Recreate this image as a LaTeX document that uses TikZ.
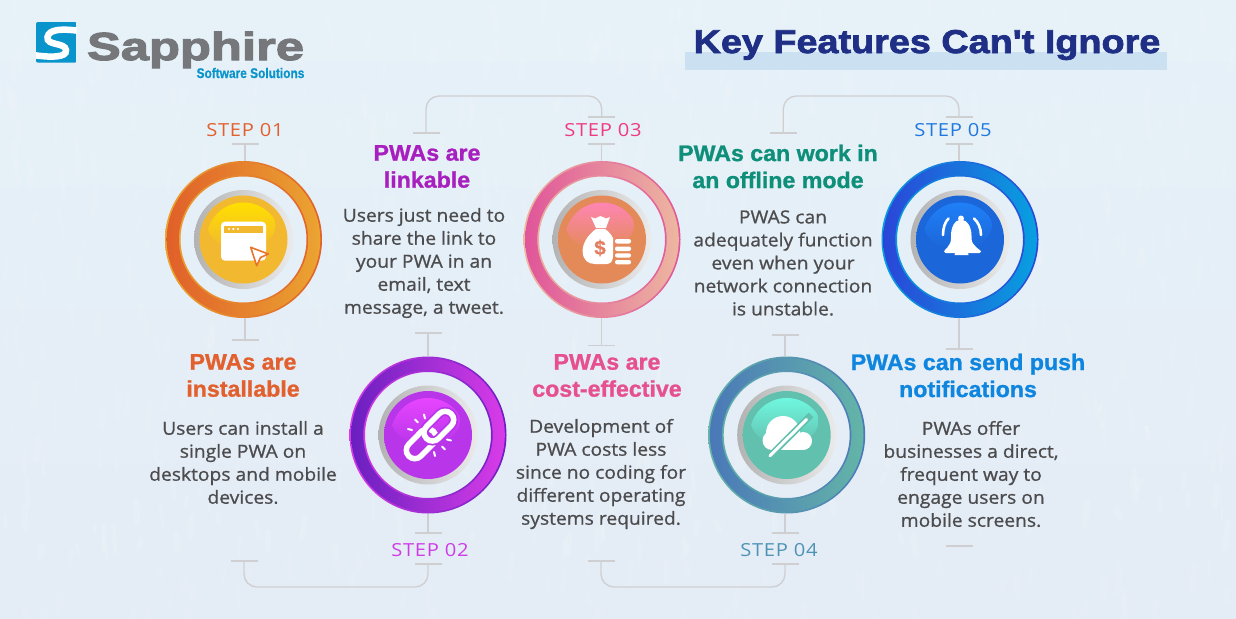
\documentclass[tikz,border=0pt]{standalone}
\usepackage{fontspec}
\setmainfont{Open Sans}
\newfontfamily\bodyf[FakeStretch=1.07,FakeBold=0.9]{Open Sans}
\newfontfamily\headf[FakeStretch=1.03,FakeBold=1.1]{Liberation Sans Bold}
\newfontfamily\titlef[FakeStretch=1.145,FakeBold=2.2]{Liberation Sans Bold}
\newfontfamily\logof[FakeStretch=1.3,FakeBold=3]{Liberation Sans Bold}
\newfontfamily\subf[FakeStretch=0.85,FakeBold=0.4]{Liberation Sans Bold}
\newfontfamily\stepf[FakeStretch=1.12,LetterSpace=4]{Open Sans}
\definecolor{bgc}{HTML}{E6F1F8}
\definecolor{bgd}{HTML}{E4ECF5}
\definecolor{linec}{HTML}{CFCFD2}
\definecolor{bodyc}{HTML}{4C4C4E}
\definecolor{logoblue}{HTML}{0A94CC}
\definecolor{logogray}{HTML}{76777A}
\definecolor{titlec}{HTML}{1E2F85}
\definecolor{bandc}{HTML}{CBE1F2}
\definecolor{stepa}{HTML}{E2602E}
\definecolor{stepb}{HTML}{CF3BE6}
\definecolor{stepc}{HTML}{EE3A80}
\definecolor{stepd}{HTML}{4E93B5}
\definecolor{stepe}{HTML}{1F78E0}
\definecolor{heada}{HTML}{E2602E}
\definecolor{headb}{HTML}{A81FBF}
\definecolor{headc}{HTML}{E65090}
\definecolor{headd}{HTML}{0E8F7A}
\definecolor{heade}{HTML}{0E86E0}
\definecolor{la}{HTML}{E0602A}\definecolor{ma}{HTML}{E68A2E}\definecolor{ra}{HTML}{EBA431}
\definecolor{ea}{HTML}{E8682A}\definecolor{ia}{HTML}{F2B830}\definecolor{ha}{HTML}{FFE000}
\definecolor{lb}{HTML}{6A1FC0}\definecolor{mb}{HTML}{A820B8}\definecolor{rb}{HTML}{D83CE8}
\definecolor{eb}{HTML}{7A22C4}\definecolor{ib}{HTML}{B835EA}\definecolor{hb}{HTML}{E845FF}
\definecolor{lc}{HTML}{E0559A}\definecolor{mc}{HTML}{E88FA8}\definecolor{rc}{HTML}{EDB7A0}
\definecolor{ec}{HTML}{E0508F}\definecolor{ic}{HTML}{E48A58}\definecolor{hc}{HTML}{FF85B5}
\definecolor{ld}{HTML}{4A78B8}\definecolor{md}{HTML}{5590B0}\definecolor{rd}{HTML}{64B5A8}
\definecolor{ed}{HTML}{4A70B4}\definecolor{ind}{HTML}{62C0AE}\definecolor{hd}{HTML}{70F8E0}
\definecolor{le}{HTML}{2A46D8}\definecolor{me}{HTML}{1A70DC}\definecolor{re}{HTML}{08A0E0}
\definecolor{ee}{HTML}{2244D8}\definecolor{ie}{HTML}{1B66D8}\definecolor{he}{HTML}{2080F8}
\pgfdeclareradialshading[discin,discout]{discshade}{\pgfpoint{0bp}{0bp}}{%
  color(0bp)=(discin); color(30bp)=(discin); color(44bp)=(discout); color(100bp)=(discout)}
\tikzset{
  bodytext/.style={align=center,text=bodyc,inner sep=0pt,font=\bodyf\fontsize{18}{23}\selectfont},
  headtext/.style={align=center,inner sep=0pt,font=\headf\fontsize{22.5}{27}\selectfont},
  steptext/.style={inner sep=0pt,font=\stepf\fontsize{18}{22}\selectfont},
  conn/.style={draw=linec,line width=1.3pt,rounded corners=13pt},
  tickmark/.style={draw=linec,line width=1.3pt},
  hub/.style={circle,inner sep=0pt,minimum size=157pt}
}
% center, left, middle, right, edge, inner, highlight, name
\newcommand{\ringat}[8]{%
  \node[hub] (#8) at (#1) {};
  \path[even odd rule,left color=#4,right color=#2] (#1) circle (78.5) (#1) circle (63);
  \path[even odd rule,left color=#2,middle color=#3,right color=#4] (#1) circle (76.8) (#1) circle (64.7);
  \path[left color=black!30,right color=black!8] (#1) circle (49.5);
  \begin{scope}
    \colorlet{discin}{#6}\colorlet{discout}{#5}
    \path[shading=discshade] (#1) circle (44);
    \clip (#1) circle (37);
    \path[top color=#7,bottom color=#6] ([xshift=-2pt,yshift=14pt]#1) ellipse (34 and 24);
  \end{scope}
}
\newcommand{\tickat}[1]{\draw[tickmark] ([xshift=-13.5pt]#1) -- ([xshift=13.5pt]#1);}
\begin{document}
\begin{tikzpicture}[x=1pt,y=-1pt]
\useasboundingbox (0,0) rectangle (1236,618);
\path[top color=bgc,bottom color=bgd] (0,0) rectangle (1236,618);
% paper texture
\pgfmathsetseed{7}
\foreach \i in {1,...,700}{
  \pgfmathsetmacro{\xa}{rnd*1236}
  \pgfmathsetmacro{\ya}{rnd*618}
  \pgfmathsetmacro{\dx}{(rnd-.5)*7}
  \pgfmathsetmacro{\dl}{6+rnd*20}
  \pgfmathsetmacro{\wd}{2+rnd*5}
  \draw[white,opacity=.1,line width=\wd pt,line cap=round] (\xa,\ya) -- ++(\dx,\dl);
}
% logo
\begin{scope}
  \clip[rounded corners=2pt] (36,22) rectangle (76.7,62.7);
  \fill[logoblue] (36,22) rectangle (76.7,62.7);
  \draw[white,line width=6.5pt] (80,31) .. controls (62,28.5) and (49,29) .. (47.5,37)
     .. controls (46,46) and (65,42) .. (66,50) .. controls (67,58) and (50,57.5) .. (33,55);
\end{scope}
\node[inner sep=0pt,anchor=base,text=logogray,font=\logof\fontsize{39}{39}\selectfont] (logotext) at (195.5,60) {Sapphire};
\node[inner sep=0pt,text=logoblue,font=\subf\fontsize{14}{14}\selectfont] (logosub) at (250.5,73) {Software Solutions};
% title
\fill[bandc] (685,52) rectangle (1167,70);
\node[inner sep=0pt,text=titlec,font=\titlef\fontsize{33}{36}\selectfont] (title) at (927,45) {Key Features Can't Ignore};
% hubs
\ringat{243.5,239.5}{la}{ma}{ra}{ea}{ia}{ha}{sa}
\ringat{428,435}{lb}{mb}{rb}{eb}{ib}{hb}{sb}
\ringat{602,239.5}{lc}{mc}{rc}{ec}{ic}{hc}{sc}
\ringat{786.7,435}{ld}{md}{rd}{ed}{ind}{hd}{sd}
\ringat{960,239.5}{le}{me}{re}{ee}{ie}{he}{se}
% connector anchors
\coordinate (a1) at (245,144);
\coordinate (a2) at (245,340);
\coordinate (b1) at (428,333);
\coordinate (b2) at (428,533);
\coordinate (b3) at (428,564);
\coordinate (b4) at (244,561);
\coordinate (c0) at (426,133);
\coordinate (c1) at (601.7,117);
\coordinate (c2) at (601.7,144);
\coordinate (c3) at (601.7,345.7);
\coordinate (d0) at (601,561);
\coordinate (d1) at (785,335);
\coordinate (d2) at (785,533);
\coordinate (d3) at (785,564);
\coordinate (e0) at (783.3,133);
\coordinate (e1) at (959,117);
\coordinate (e2) at (959,144);
\coordinate (e3) at (959,349);
\coordinate (e4) at (959,546);
\foreach \p in {a1,a2,b1,b2,b3,b4,c0,c1,c2,c3,d0,d1,d2,d3,e0,e1,e2,e3,e4}{\tickat{\p}}
\draw[tickmark] (a1) -- (a1 |- sa.north);
\draw[tickmark] (a2) -- (a2 |- sa.south);
\draw[tickmark] (b1) -- (b1 |- sb.north);
\draw[tickmark] (b2) -- (b2 |- sb.south);
\draw[tickmark] (c2) -- (c2 |- sc.north);
\draw[tickmark] (c3) -- (c3 |- sc.south);
\draw[tickmark] (d1) -- (d1 |- sd.north);
\draw[tickmark] (d2) -- (d2 |- sd.south);
\draw[tickmark] (e2) -- (e2 |- se.north);
\draw[tickmark] (e3) -- (e3 |- se.south);
\draw[conn] (b3) -- (428,587) -- (244,587) -- (b4);
\draw[conn] (d3) -- (785,587) -- (601,587) -- (d0);
\draw[conn] (c0) -- (426,96) -- (601.7,96) -- (c1);
\draw[conn] (e0) -- (783.3,96) -- (959,96) -- (e1);
% step labels
\node[steptext,text=stepa] (la1) at (245,130) {STEP 01};
\node[steptext,text=stepb] (la2) at (430,550) {STEP 02};
\node[steptext,text=stepc] (la3) at (603,130) {STEP 03};
\node[steptext,text=stepd] (la4) at (779,550) {STEP 04};
\node[steptext,text=stepe] (la5) at (953,130) {STEP 05};
% headings
\node[headtext,text=heada] (ha1) at (243,375.5) {PWAs are\\installable};
\node[headtext,text=headb] (ha2) at (427,166.5) {PWAs are\\linkable};
\node[headtext,text=headc] (ha3) at (607,375.5) {PWAs are\\cost-effective};
\node[headtext,text=headd] (ha4) at (778,166.5) {PWAs can work in\\an offline mode};
\node[headtext,text=heade] (ha5) at (968,375.5) {PWAs can send push\\notifications};
% bodies
\node[bodytext] (bo1) at (243,462.5) {Users can install a\\single PWA on\\desktops and mobile\\devices.};
\node[bodytext] (bo2) at (424,263) {Users just need to\\share the link to\\your PWA in an\\email, text\\message, a tweet.};
\node[bodytext] (bo3) at (601,474) {Development of\\PWA costs less\\since no coding for\\different operating\\systems required.};
\node[bodytext] (bo4) at (783,263) {PWAS can\\adequately function\\even when your\\network connection\\is unstable.};
\node[bodytext] (bo5) at (971,474) {PWAs offer\\businesses a direct,\\frequent way to\\engage users on\\mobile screens.};
% icon 1: window and cursor
\fill[white,rounded corners=4pt] (221,221.7) rectangle (266,260.7);
\fill[color=ia] (224,225.7) rectangle (263,232.7);
\fill[white] (229,229) circle (1.2);
\fill[white] (233.3,229) circle (1.2);
\fill[white] (238,229) circle (1.2);
\draw[draw=ea!85!ia,fill=white,line width=1.6pt,line join=round] (250.7,247.3) -- (268.3,254) -- (260.5,257.5) -- (256.7,265.7) -- cycle;
% icon 2: chain
\begin{scope}[shift={(430,435)},rotate=45]
  \draw[white,line width=5.5pt,rounded corners=8.5pt] (-30,-8.5) rectangle (5,8.5);
  \draw[draw=ib,line width=9pt,rounded corners=8.5pt] (-5,-8.5) rectangle (30,8.5);
  \draw[white,line width=5.5pt,rounded corners=8.5pt] (-5,-8.5) rectangle (30,8.5);
  \draw[white,line width=5.5pt] (-8,-8.5) -- (-1,-8.5);
\end{scope}
\draw[white,line width=2pt,line cap=round]
  (415,419.5) -- (418,422.5) (424,414.5) -- (425,418.5) (408,429) -- (412,430)
  (451,440.5) -- (447,439.5) (445,449.5) -- (442,446.5) (435,456) -- (434,452);
% icon 3: money bag
\fill[white] (591,217) -- (595,218.5) -- (600.5,216) -- (606,218.5) -- (610,217) -- (606,228) -- (596,228) -- cycle;
\fill[white] (596,229) .. controls (586,236) and (582,246) .. (582.7,252)
  .. controls (583,260) and (588,264) .. (595,264) -- (607,264)
  .. controls (612,264) and (613,259) .. (613,255) -- (613,238) .. controls (611,234) and (608,231) .. (605,229) -- cycle;
\node[inner sep=0pt,text=ic!80!ec,font=\headf\fontsize{20}{20}\selectfont] (dollar) at (600,248) {\$};
\foreach \ya/\yb in {239/243.5,246.5/251,253.3/257.5,260/264.3}{
  \fill[white,rounded corners=2pt] (615,\ya) rectangle (631,\yb);
}
% icon 4: cloud
\fill[white] (783,433) circle (17);
\fill[white] (772,440.5) circle (9.5);
\fill[white] (803,441) circle (9);
\fill[white] (772,436) rectangle (803,450);
\draw[draw=ind,line width=6.5pt] (811,415) -- (769,457);
\draw[white,line width=3pt,line cap=round] (806.5,419.5) -- (770,455.7);
% icon 5: bell
\fill[white] (961,218.5) circle (3);
\fill[white,rounded corners=1.5pt] (944,253) .. controls (944,250) and (951,246) .. (951,237)
  .. controls (951,227) and (955,220) .. (961,220) .. controls (967,220) and (971.5,227) .. (971.5,237)
  .. controls (971.5,246) and (981,250) .. (981,253) -- cycle;
\fill[white] (954.5,255) arc[start angle=180,end angle=360,x radius=7,y radius=5.5] -- cycle;
\draw[white,line width=2.6pt,line cap=round] (943,235) .. controls (943,228) and (945,222) .. (948.5,218.5);
\draw[white,line width=2.6pt,line cap=round] (981,235) .. controls (981,228) and (978,222) .. (974,218.5);
\end{tikzpicture}
\end{document}
